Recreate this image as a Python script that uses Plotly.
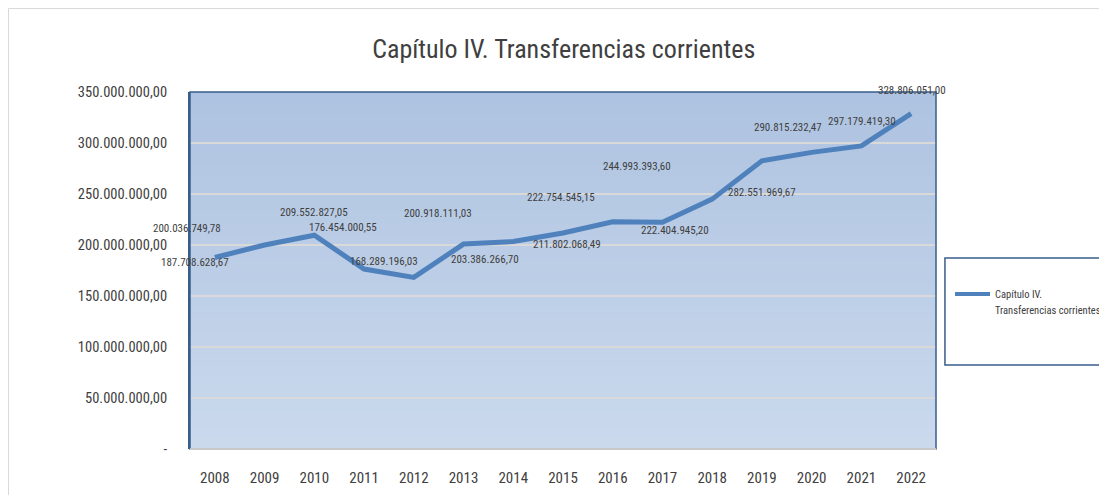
# Capítulo IV. Transferencias corrientes - recreated with Plotly
import plotly.graph_objects as go

years = ["2008", "2009", "2010", "2011", "2012", "2013", "2014", "2015",
         "2016", "2017", "2018", "2019", "2020", "2021", "2022"]
values = [187708628.67, 200036749.78, 209552827.05, 176454000.55, 168289196.03,
          200918111.03, 203386266.70, 211802068.49, 222754545.15, 222404945.20,
          244993393.60, 282551969.67, 290815232.47, 297179419.30, 328806051.00]
y_ticks = [0, 50e6, 100e6, 150e6, 200e6, 250e6, 300e6, 350e6]
y_tick_labels = ["-", "50.000.000,00", "100.000.000,00", "150.000.000,00",
                 "200.000.000,00", "250.000.000,00", "300.000.000,00", "350.000.000,00"]
series_name = ["Capítulo IV.", "Transferencias corrientes"]

# label offsets (px) as placed in the original Excel chart
label_shift = [(-20, -5), (-78, 16), (0, 23), (-21, 42), (-30, 16), (-26, 31),
               (-28, -18), (4, -12), (-52, 24), (13, -8), (-75, 33), (0, -32),
               (-24, 25), (1, 24), (1, 23)]

FONT = "Liberation Sans Narrow, Arial Narrow, Roboto Condensed, sans-serif"
TXT = "#404040"
LINE = "#4f81bd"
BORDER = "#385d8a"


def es_format(v):
    s = f"{v:,.2f}"
    return s.replace(",", "X").replace(".", ",").replace("X", ".")


fig = go.Figure()

fig.add_trace(go.Scatter(
    x=years, y=values,
    mode="lines",
    line=dict(color=LINE, width=5),
    name=" ".join(series_name),
    hoverinfo="skip",
    showlegend=False,
))

# data labels (category axis -> annotation x is the category index)
for i, (v, (dx, dy)) in enumerate(zip(values, label_shift)):
    fig.add_annotation(
        x=i, y=v, text=es_format(v), showarrow=False,
        xshift=dx, yshift=dy,
        font=dict(family=FONT, size=11, color=TXT),
    )

# gradient background of the plot area
bands = 30
top = (174, 195, 225)
bot = (202, 217, 236)
for i in range(bands):
    t = i / (bands - 1)
    c = tuple(round(top[k] + (bot[k] - top[k]) * t) for k in range(3))
    fig.add_shape(
        type="rect", xref="paper", yref="paper",
        x0=0, x1=1, y0=max(0, 1 - (i + 1) / bands - 0.004), y1=1 - i / bands,
        fillcolor=f"rgb{c}", line=dict(width=0), layer="below",
    )

# plot border
fig.add_shape(type="rect", xref="paper", yref="paper", x0=0, x1=1, y0=0, y1=1,
              line=dict(color=BORDER, width=1.5), layer="above")
fig.add_shape(type="line", xref="paper", yref="paper", x0=0, x1=1, y0=0, y1=0,
              line=dict(color="#c8c8c8", width=2), layer="above")

# legend box, drawn by hand so it does not push the plot margins
fig.add_shape(type="rect", xref="paper", yref="paper", x0=1.012, x1=1.25, y0=0.235, y1=0.535,
              line=dict(color=BORDER, width=1.5), fillcolor="white")
fig.add_shape(type="line", xref="paper", yref="paper", x0=1.0255, x1=1.0724, y0=0.434, y1=0.434,
              line=dict(color=LINE, width=4))
for txt, yy in zip(series_name, [0.434, 0.387]):
    fig.add_annotation(x=1.0764, y=yy, xref="paper", yref="paper", text=txt,
                       showarrow=False, xanchor="left", yanchor="middle",
                       font=dict(family=FONT, size=10.5, color=TXT))

# outer chart frame
fig.add_shape(type="rect", xref="paper", yref="paper", x0=-0.2433, x1=1.3, y0=-0.2, y1=1.234,
              line=dict(color="#d9d9d9", width=1))

fig.update_layout(
    width=1107, height=495,
    paper_bgcolor="white",
    plot_bgcolor="rgba(0,0,0,0)",
    margin=dict(l=182, r=179, t=84, b=54),
    title=dict(text="Capítulo IV. Transferencias corrientes", x=0.501, xanchor="center",
               xref="paper", y=0.917, yanchor="middle",
               font=dict(family=FONT, size=26, color=TXT)),
    showlegend=False,
    xaxis=dict(type="category", range=[-0.5, 14.5], showgrid=False, zeroline=False,
               showline=False, ticks="", ticklabelstandoff=18,
               tickfont=dict(family=FONT, size=15, color=TXT)),
    yaxis=dict(range=[0, 350e6], tickvals=y_ticks, ticktext=y_tick_labels,
               showgrid=True, gridcolor="#d9d9d9", gridwidth=2, zeroline=False,
               showline=True, linecolor=BORDER, linewidth=2,
               ticks="", ticklabelstandoff=18,
               tickfont=dict(family=FONT, size=14.5, color=TXT)),
)

fig.write_html("out.html")
